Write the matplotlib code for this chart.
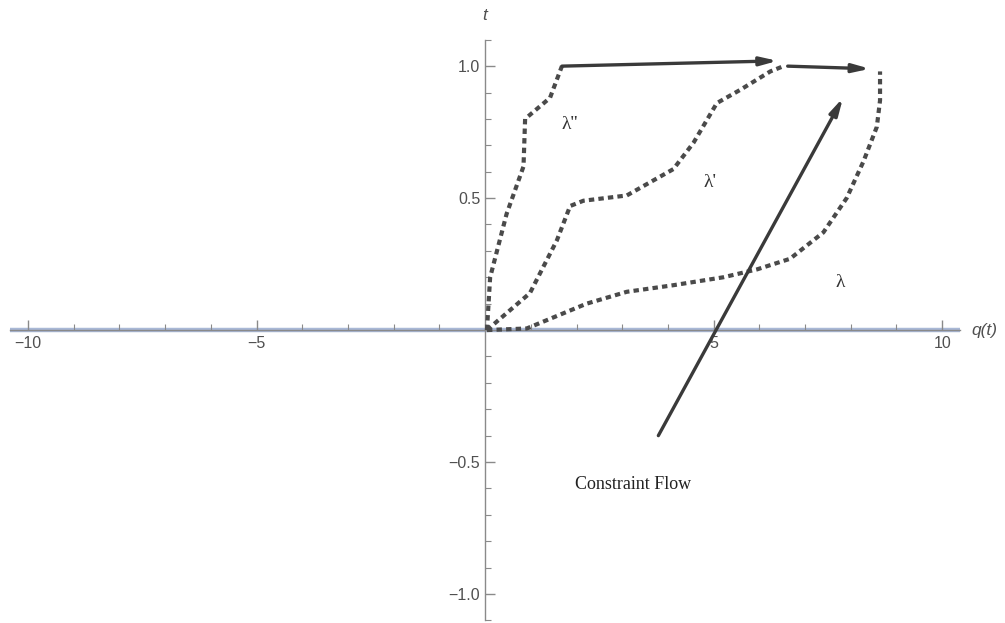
import matplotlib
matplotlib.use("Agg")
import matplotlib.pyplot as plt
import numpy as np

# dotted paths (q, t)
lam2_q = [0.04, 0.11, 0.47, 0.84, 0.875, 1.42, 1.68]
lam2_t = [0.00, 0.20, 0.44, 0.62, 0.80, 0.88, 1.00]

lam1_q = [0.04, 0.98, 1.57, 1.86, 2.15, 3.10, 4.12, 4.56, 5.07, 5.58, 6.24, 6.53]
lam1_t = [0.00, 0.14, 0.34, 0.47, 0.49, 0.51, 0.61, 0.71, 0.86, 0.91, 0.98, 1.00]

lam0_q = [0.04, 0.91, 2.22, 3.10, 4.12, 5.21, 5.95, 6.67, 7.40, 7.91, 8.28, 8.57, 8.64, 8.64]
lam0_t = [0.00, 0.006, 0.10, 0.145, 0.17, 0.20, 0.23, 0.27, 0.37, 0.50, 0.64, 0.77, 0.87, 0.98]

# arrows: (start, end)
top_arrow1 = [(1.68, 1.00), (6.40, 1.02)]
top_arrow2 = [(6.62, 1.00), (8.42, 0.99)]
flow_arrow = [(3.79, -0.40), (7.83, 0.88)]

labels = [("λ''", 1.86, 0.78), ("λ'", 4.92, 0.56), ("λ", 7.77, 0.18)]

AX = "#8a8a8a"
TXT = "#505050"
DOT = "#4a4a4a"
SANS = "Liberation Sans"

fig = plt.figure(figsize=(10.05, 6.23), dpi=100)
ax = fig.add_axes([0.0097, 0.0042, 0.946, 0.932])
ax.set_xlim(-10.4, 10.4)
ax.set_ylim(-1.1, 1.1)

# the plotted t = 0 line
ax.plot([-10.4, 10.4], [0, 0], color="#a9b8d6", lw=3.2, zorder=1, solid_capstyle="butt")

for q, t in [(lam2_q, lam2_t), (lam1_q, lam1_t), (lam0_q, lam0_t)]:
    ax.plot(q, t, color=DOT, lw=3, ls=(0, (1.3, 1.0)), zorder=3)

for (x0, y0), (x1, y1) in [top_arrow1, top_arrow2, flow_arrow]:
    ax.annotate("", xy=(x1, y1), xytext=(x0, y0),
                arrowprops=dict(arrowstyle="-|>,head_length=1.0,head_width=0.25",
                                color="#3a3a3a", lw=2.4, shrinkA=0, shrinkB=0),
                zorder=4)

for s, x, y in labels:
    ax.text(x, y, s, fontsize=14, family="Liberation Serif", color="#333333",
            ha="center", va="center")
ax.text(3.24, -0.587, "Constraint Flow", fontsize=13, family="Liberation Serif",
        color="#222222", ha="center", va="center")

# axes through the origin
for side in ("top", "right"):
    ax.spines[side].set_visible(False)
ax.spines["left"].set_position(("data", 0))
ax.spines["bottom"].set_position(("data", 0))
for side in ("left", "bottom"):
    ax.spines[side].set_color(AX)
    ax.spines[side].set_linewidth(1.0)
    ax.spines[side].set_zorder(2)

ax.set_xticks([-10, -5, 5, 10])
ax.set_xticklabels(["−10", "−5", "5", "10"])
ax.set_xticks(np.arange(-10, 11, 1), minor=True)
ax.set_yticks([-1.0, -0.5, 0.5, 1.0])
ax.set_yticklabels(["−1.0", "−0.5", "0.5", "1.0"])
ax.set_yticks(np.arange(-1.1, 1.11, 0.1), minor=True)
ax.tick_params(axis="both", which="major", direction="in", length=7, width=1,
               color=AX, labelcolor=TXT, labelsize=11.5)
ax.tick_params(axis="both", which="minor", direction="in", length=4, width=0.8, color=AX)
ax.tick_params(axis="x", which="both", direction="in", pad=4)
for lab in ax.get_xticklabels() + ax.get_yticklabels():
    lab.set_family(SANS)

ax.text(10.65, 0, "q(t)", fontsize=12.5, style="italic", family=SANS, color=TXT,
        ha="left", va="center")
ax.text(0, 1.19, "t", fontsize=12.5, style="italic", family=SANS, color=TXT,
        ha="center", va="center")

fig.savefig("out.png", dpi=100)
